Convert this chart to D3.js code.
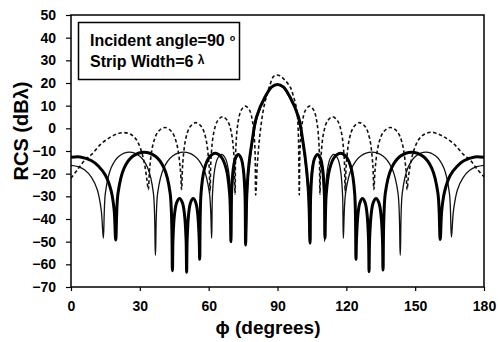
<!DOCTYPE html>
<html><head><meta charset="utf-8">
<script src="https://cdn.jsdelivr.net/npm/d3@7"></script>
<style>
html,body{margin:0;padding:0;background:#fff;}
svg{display:block;font-family:"Liberation Sans",Arial,sans-serif;}
</style></head>
<body>
<svg id="chart" width="499" height="342"></svg>
<script>
// ---- data (phi in degrees, RCS in dBλ) ----
const xTicks = [0, 30, 60, 90, 120, 150, 180];
const yTicks = [50, 40, 30, 20, 10, 0, -10, -20, -30, -40, -50, -60, -70];
const legendLine1 = "Incident angle=90";
const legendLine2 = "Strip Width=6";

const thickSeries = [
 [0,-12.8],[4,-12.6],[9,-14.3],[12,-16.7],[15,-20.7],[17.5,-27.6],[18.8,-36],[19.5,-49.3],
 [20.5,-28.5],[23.2,-17.4],[26.9,-12.3],[31.85,-10.5],[36.8,-12.3],[40.5,-17.4],[43.2,-28.5],[44.2,-62.8],
 [44.45,-49],[45.1,-38],[46.06,-32.8],[47.3,-31],[48.54,-32.8],[49.47,-38],[50.15,-49],[50.4,-63.5],
 [50.63,-49],[51.25,-38],[52.1,-32.8],[53.25,-31],[54.4,-32.8],[55.25,-38],[55.87,-49],[56.1,-57.8],
 [56.65,-29],[58.14,-17.9],[60.2,-12.8],[62.9,-11],[65.6,-12.8],[67.66,-17.9],[69.15,-29],[69.7,-50],
 [69.96,-29.5],[70.66,-18.4],[71.62,-13.3],[72.9,-11.5],[74.18,-13.3],[75.14,-18.4],[75.84,-29.5],[76.1,-51.5],
 [76.6,-30],[77.3,-18.4],[78.8,-6.6],[80.9,5.1],[84.6,13.9],[87.5,18.3],[90,19.3],[92.5,18.3],[95.4,13.9],[99.1,5.1],[101.2,-6.6],[102.7,-18.4],[103.6,-30],[104.2,-50.7],
 [104.46,-29.5],[105.18,-18.4],[106.15,-13.3],[107.45,-11.5],[108.75,-13.3],[109.73,-18.4],[110.44,-29.5],[110.7,-48.5],
 [111.24,-29],[112.73,-17.9],[114.75,-12.8],[117.45,-11],[120.15,-12.8],[122.18,-17.9],[123.66,-29],[124.2,-57.8],
 [124.43,-49],[125.06,-38],[125.91,-32.8],[127.05,-31],[128.19,-32.8],[129.05,-38],[129.67,-49],[129.9,-63.2],
 [130.14,-49],[130.82,-38],[131.73,-32.8],[132.95,-31],[134.17,-32.8],[135.09,-38],[135.76,-49],[136.0,-62.5],
 [137,-28.5],[139.74,-17.4],[143.47,-12.3],[148.45,-10.5],[153.43,-12.3],[157.17,-17.4],[159.9,-28.5],[160.9,-49],
 [161.6,-36],[162.9,-27.6],[165.3,-20.7],[168.3,-16.7],[171.2,-14.3],[176,-12.6],[180,-12.8]
];

const thinSeries = [
 [0,-16.3],[3,-16.9],[6,-18.4],[9,-21.7],[11.5,-27.2],[13.2,-36.3],[14.1,-48.5],
 [15.0,-28.5],[17.5,-17.4],[20.9,-12.3],[25.45,-10.5],[30.0,-12.3],[33.4,-17.4],[35.9,-28.5],[36.8,-56],
 [37.78,-28.5],[40.48,-17.4],[44.15,-12.3],[49.05,-10.5],[53.95,-12.3],[57.63,-17.4],[60.32,-28.5],[61.3,-48.5],
 [61.64,-29.5],[62.59,-18.4],[63.88,-13.3],[65.6,-11.5],[67.32,-13.3],[68.61,-18.4],[69.56,-29.5],[69.9,-50],
 [70.16,-29.8],[70.86,-18.7],[71.82,-13.6],[73.1,-11.8],[74.38,-13.6],[75.34,-18.7],[76.04,-29.8],[76.3,-50],
 [76.8,-30],[77.5,-18.6],[79,-6.8],[81.1,4.9],[84.8,13.7],[87.6,18.1],[90,19.1],[92.4,18.1],[95.2,13.7],[98.9,4.9],[101,-6.8],[102.5,-18.6],[103.4,-30],[103.9,-50],
 [104.16,-29.8],[104.89,-18.7],[105.88,-13.6],[107.2,-11.8],[108.52,-13.6],[109.51,-18.7],[110.24,-29.8],[110.5,-50],
 [110.83,-29.5],[111.73,-18.4],[112.96,-13.3],[114.6,-11.5],[116.24,-13.3],[117.47,-18.4],[118.37,-29.5],[118.7,-48.5],
 [119.69,-28.5],[122.42,-17.4],[126.14,-12.3],[131.1,-10.5],[136.06,-12.3],[139.78,-17.4],[142.51,-28.5],[143.5,-56],
 [144.39,-28.5],[146.85,-17.4],[150.19,-12.3],[154.65,-10.5],[159.11,-12.3],[162.46,-17.4],[164.91,-28.5],[165.8,-48],
 [166.7,-36.3],[168.4,-27.2],[170.9,-21.7],[173.9,-18.4],[176.9,-16.9],[180,-16.3]
];

const dashedSeries = [
 [0,-22],[3,-18],[6,-14],[9,-11.5],[13,-7],[17,-4],[20,-2.5],[23,-1.9],[26,-2.6],[28.5,-5],[30.5,-9.5],[32,-15.5],[33,-22],[33.7,-27],
 [34.28,-17.6],[35.88,-6.5],[38.05,-1.4],[40.95,0.4],[43.85,-1.4],[46.0,-6.5],[47.62,-17.6],[48.2,-27],
 [48.7,-15.5],[50.06,-4.4],[51.92,0.7],[54.4,2.5],[56.88,0.7],[58.74,-4.4],[60.1,-15.5],[60.6,-28],
 [61.04,-12.9],[62.24,-1.8],[63.87,3.3],[66.05,5.1],[68.23,3.3],[69.87,-1.8],[71.06,-12.9],[71.5,-29],
 [71.86,-8.2],[72.85,2.9],[74.2,8],[76,9.8],[77.8,8],[79.15,2.9],[80.14,-8.2],[80.5,-29.4],
 [81.2,-16],[82.2,-4],[83.8,8],[85.3,14.5],[86.7,19.1],[88.2,22.8],[89.5,23.5],[91,23.2],[93,21.5],[95.5,18.3],[97,14],[98.4,8],[99.1,-3],[99.3,-16],[99.5,-29.4],
 [99.86,-8.2],[100.85,2.9],[102.2,8],[104,9.8],[105.8,8],[107.15,2.9],[108.14,-8.2],[108.5,-29],
 [108.94,-12.9],[110.15,-1.8],[111.8,3.3],[114,5.1],[116.2,3.3],[117.85,-1.8],[119.06,-12.9],[119.5,-28],
 [120,-15.5],[121.38,-4.4],[123.25,0.7],[125.75,2.5],[128.25,0.7],[130.13,-4.4],[131.5,-15.5],[132,-27],
 [132.58,-17.6],[134.18,-6.5],[136.35,-1.4],[139.25,0.4],[142.15,-1.4],[144.33,-6.5],[145.92,-17.6],[146.5,-27],
 [147,-22],[148,-15.5],[149.5,-9.5],[151.5,-5],[154,-2.6],[157,-1.7],[160,-2.5],[163,-4],[167,-7],[171,-11.5],[174,-14],[177,-18],[180,-21.3]
];

// ---- layout ----
const svg = d3.select("#chart");
const L = 71, R = 484, T = 15, B = 287;
const x = d3.scaleLinear().domain([0, 180]).range([L, R]);
const y = d3.scaleLinear().domain([-70, 50]).range([B, T]);

svg.append("defs").append("clipPath").attr("id", "clip")
  .append("rect").attr("x", L).attr("y", T).attr("width", R - L).attr("height", B - T);

const line = d3.line().x(d => x(d[0])).y(d => y(d[1])).curve(d3.curveCatmullRom.alpha(0.5));

const g = svg.append("g").attr("clip-path", "url(#clip)");
g.append("path").datum(dashedSeries).attr("d", line)
  .attr("fill", "none").attr("stroke", "#111").attr("stroke-width", 1.6).attr("stroke-dasharray", "3.5,2.5");
g.append("path").datum(thinSeries).attr("d", line)
  .attr("fill", "none").attr("stroke", "#111").attr("stroke-width", 1.3);
g.append("path").datum(thickSeries).attr("d", line)
  .attr("fill", "none").attr("stroke", "#000").attr("stroke-width", 3);

// frame
svg.append("rect").attr("x", L).attr("y", T).attr("width", R - L).attr("height", B - T)
  .attr("fill", "none").attr("stroke", "#000").attr("stroke-width", 1.5);

// axes
const yAxis = d3.axisLeft(y).tickValues(yTicks).tickSize(5).tickPadding(10).tickFormat(d3.format("d"));
const yg = svg.append("g").attr("transform", `translate(${L},0)`).call(yAxis);
const xAxis = d3.axisBottom(x).tickValues(xTicks).tickSize(4).tickPadding(10).tickFormat(d3.format("d"));
const xg = svg.append("g").attr("transform", `translate(0,${B})`).call(xAxis);
[yg, xg].forEach(a => {
  a.select(".domain").remove();
  a.selectAll(".tick line").attr("stroke", "#000").attr("stroke-width", 1.2);
  a.selectAll(".tick text").attr("fill", "#000").style("font-size", "14px").style("font-weight", "bold")
    .style("font-family", '"Liberation Sans",Arial,sans-serif');
});

// axis titles
svg.append("text").attr("transform", "translate(28,131) rotate(-90)")
  .attr("text-anchor", "middle").style("font-size", "20px").style("font-weight", "bold").attr("fill", "#000")
  .text("RCS (dBλ)");
svg.append("text").attr("x", 268).attr("y", 334).attr("text-anchor", "middle")
  .style("font-size", "19px").style("font-weight", "bold").attr("fill", "#000").text("ϕ (degrees)");

// legend box
svg.append("rect").attr("x", 78.5).attr("y", 22.5).attr("width", 161).attr("height", 57)
  .attr("fill", "#fff").attr("stroke", "#000").attr("stroke-width", 1.5);
const t1 = svg.append("text").attr("x", 90).attr("y", 46).style("font-size", "16px").style("font-weight", "bold").attr("fill", "#000");
t1.append("tspan").text(legendLine1);
t1.append("tspan").attr("dx", 5).attr("dy", -5).style("font-size", "9px").text("o");
const t2 = svg.append("text").attr("x", 90).attr("y", 67).style("font-size", "16px").style("font-weight", "bold").attr("fill", "#000");
t2.append("tspan").text(legendLine2 + " ");
t2.append("tspan").attr("dy", -3).style("font-size", "12px").text("λ");
</script>
</body></html>
